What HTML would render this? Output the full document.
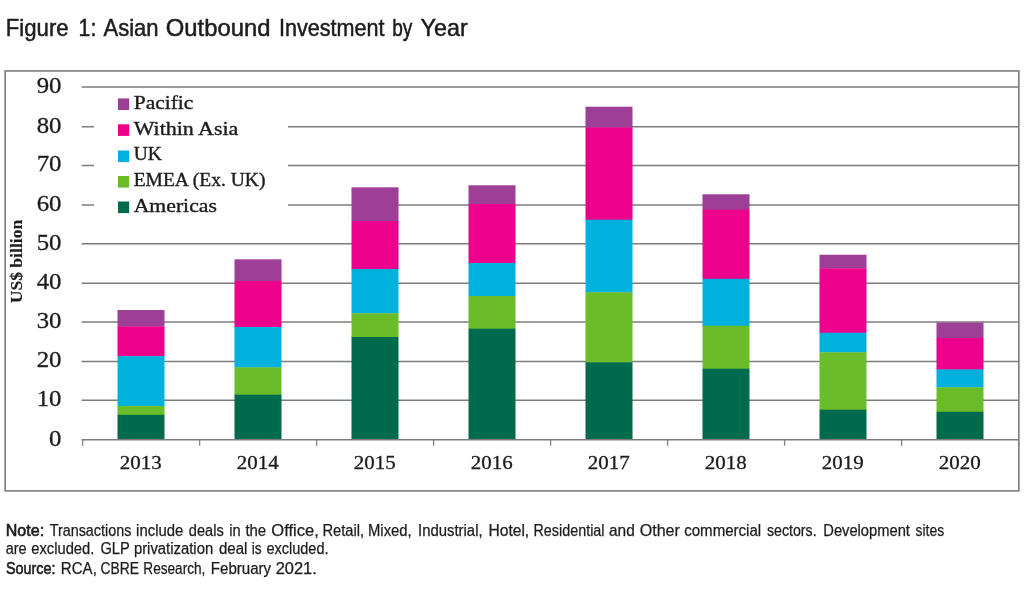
<!DOCTYPE html>
<html lang="en"><head><meta charset="utf-8"><title>Figure 1: Asian Outbound Investment by Year</title>
<style>html,body{margin:0;padding:0;background:#fff}svg{display:block}.s{font-family:"Liberation Serif","DejaVu Serif",serif;fill:#1c1c1c;stroke:#1c1c1c;stroke-width:.3px}.a{font-family:"Liberation Sans","DejaVu Sans",sans-serif;fill:#1c1c1c}.f{stroke:#1c1c1c;stroke-width:.25px}.m{stroke:#1c1c1c;stroke-width:.6px}.t{stroke:#1c1c1c;stroke-width:.5px}.b{font-weight:bold}</style></head><body>
<svg width="1024" height="600" viewBox="0 0 1024 600">
<rect width="1024" height="600" fill="#fff"/>
<text class="a t" y="36.0" font-size="24"><tspan x="5.8" textLength="62.8" lengthAdjust="spacingAndGlyphs">Figure</tspan> <tspan x="78.6" textLength="17.7" lengthAdjust="spacingAndGlyphs">1:</tspan> <tspan x="103.5" textLength="55.1" lengthAdjust="spacingAndGlyphs">Asian</tspan> <tspan x="165.8" textLength="104.6" lengthAdjust="spacingAndGlyphs">Outbound</tspan> <tspan x="279.0" textLength="105.6" lengthAdjust="spacingAndGlyphs">Investment</tspan> <tspan x="392.2" textLength="20.1" lengthAdjust="spacingAndGlyphs">by</tspan> <tspan x="420.6" textLength="47.1" lengthAdjust="spacingAndGlyphs">Year</tspan></text>
<rect x="5.15" y="70.95" width="1013.7" height="419.95" fill="none" stroke="#7c7c7c" stroke-width="1.6"/>
<g stroke="#7c7c7c" stroke-width="1.5">
<line x1="81.6" y1="400.22" x2="1018.5" y2="400.22"/>
<line x1="81.6" y1="361.45" x2="1018.5" y2="361.45"/>
<line x1="81.6" y1="321.95" x2="1018.5" y2="321.95"/>
<line x1="81.6" y1="283.28" x2="1018.5" y2="283.28"/>
<line x1="81.6" y1="243.74" x2="1018.5" y2="243.74"/>
<line x1="81.6" y1="205.05" x2="1018.5" y2="205.05"/>
<line x1="81.6" y1="165.40" x2="1018.5" y2="165.40"/>
<line x1="81.6" y1="126.74" x2="1018.5" y2="126.74"/>
<line x1="81.6" y1="87.07" x2="1018.5" y2="87.07"/>
</g>
<rect x="94" y="91" width="194" height="135" fill="#fff"/>
<rect x="117.5" y="310.0" width="47" height="16.6" fill="#9e3f97"/>
<rect x="117.5" y="326.3" width="47" height="30.1" fill="#ec008c"/>
<rect x="117.5" y="356.1" width="47" height="50.2" fill="#00b1dd"/>
<rect x="117.5" y="406.0" width="47" height="9.1" fill="#6abd28"/>
<rect x="117.5" y="414.8" width="47" height="25.2" fill="#006a4d"/>
<rect x="234.5" y="259.3" width="47" height="22.0" fill="#9e3f97"/>
<rect x="234.5" y="281.0" width="47" height="46.3" fill="#ec008c"/>
<rect x="234.5" y="327.0" width="47" height="40.6" fill="#00b1dd"/>
<rect x="234.5" y="367.3" width="47" height="27.7" fill="#6abd28"/>
<rect x="234.5" y="394.7" width="47" height="45.3" fill="#006a4d"/>
<rect x="351.5" y="187.3" width="47" height="34.0" fill="#9e3f97"/>
<rect x="351.5" y="221.0" width="47" height="48.3" fill="#ec008c"/>
<rect x="351.5" y="269.0" width="47" height="44.6" fill="#00b1dd"/>
<rect x="351.5" y="313.3" width="47" height="24.0" fill="#6abd28"/>
<rect x="351.5" y="337.0" width="47" height="103.0" fill="#006a4d"/>
<rect x="468.5" y="185.3" width="47" height="19.0" fill="#9e3f97"/>
<rect x="468.5" y="204.0" width="47" height="59.3" fill="#ec008c"/>
<rect x="468.5" y="263.0" width="47" height="33.3" fill="#00b1dd"/>
<rect x="468.5" y="296.0" width="47" height="33.0" fill="#6abd28"/>
<rect x="468.5" y="328.7" width="47" height="111.3" fill="#006a4d"/>
<rect x="585.5" y="106.7" width="47" height="20.9" fill="#9e3f97"/>
<rect x="585.5" y="127.3" width="47" height="92.7" fill="#ec008c"/>
<rect x="585.5" y="219.7" width="47" height="72.9" fill="#00b1dd"/>
<rect x="585.5" y="292.3" width="47" height="70.3" fill="#6abd28"/>
<rect x="585.5" y="362.3" width="47" height="77.7" fill="#006a4d"/>
<rect x="702.5" y="194.3" width="47" height="15.7" fill="#9e3f97"/>
<rect x="702.5" y="209.7" width="47" height="69.4" fill="#ec008c"/>
<rect x="702.5" y="278.8" width="47" height="47.2" fill="#00b1dd"/>
<rect x="702.5" y="325.7" width="47" height="43.3" fill="#6abd28"/>
<rect x="702.5" y="368.7" width="47" height="71.3" fill="#006a4d"/>
<rect x="819.5" y="254.7" width="47" height="13.9" fill="#9e3f97"/>
<rect x="819.5" y="268.3" width="47" height="64.7" fill="#ec008c"/>
<rect x="819.5" y="332.7" width="47" height="19.9" fill="#00b1dd"/>
<rect x="819.5" y="352.3" width="47" height="57.7" fill="#6abd28"/>
<rect x="819.5" y="409.7" width="47" height="30.3" fill="#006a4d"/>
<rect x="936.5" y="322.5" width="47" height="15.8" fill="#9e3f97"/>
<rect x="936.5" y="338.0" width="47" height="31.8" fill="#ec008c"/>
<rect x="936.5" y="369.5" width="47" height="18.1" fill="#00b1dd"/>
<rect x="936.5" y="387.3" width="47" height="24.8" fill="#6abd28"/>
<rect x="936.5" y="411.8" width="47" height="28.2" fill="#006a4d"/>
<g stroke="#7c7c7c" stroke-width="1.5">
<line x1="81.6" y1="439.7" x2="1018.5" y2="439.7"/>
<line x1="82.6" y1="440" x2="82.6" y2="445.7" stroke-width="1.35" stroke="#858585"/>
<line x1="199.6" y1="440" x2="199.6" y2="445.7" stroke-width="1.35" stroke="#858585"/>
<line x1="316.6" y1="440" x2="316.6" y2="445.7" stroke-width="1.35" stroke="#858585"/>
<line x1="433.6" y1="440" x2="433.6" y2="445.7" stroke-width="1.35" stroke="#858585"/>
<line x1="550.6" y1="440" x2="550.6" y2="445.7" stroke-width="1.35" stroke="#858585"/>
<line x1="667.6" y1="440" x2="667.6" y2="445.7" stroke-width="1.35" stroke="#858585"/>
<line x1="784.6" y1="440" x2="784.6" y2="445.7" stroke-width="1.35" stroke="#858585"/>
<line x1="901.6" y1="440" x2="901.6" y2="445.7" stroke-width="1.35" stroke="#858585"/>
<line x1="1018.6" y1="440" x2="1018.6" y2="445.7" stroke-width="1.35" stroke="#858585"/>
</g>
<text class="s" x="49.1" y="445.7" font-size="22.9" textLength="12.4" lengthAdjust="spacingAndGlyphs">0</text>
<text class="s" x="36.7" y="406.2" font-size="22.9" textLength="24.8" lengthAdjust="spacingAndGlyphs">10</text>
<text class="s" x="36.7" y="367.4" font-size="22.9" textLength="24.8" lengthAdjust="spacingAndGlyphs">20</text>
<text class="s" x="36.7" y="327.9" font-size="22.9" textLength="24.8" lengthAdjust="spacingAndGlyphs">30</text>
<text class="s" x="36.7" y="289.3" font-size="22.9" textLength="24.8" lengthAdjust="spacingAndGlyphs">40</text>
<text class="s" x="36.7" y="249.7" font-size="22.9" textLength="24.8" lengthAdjust="spacingAndGlyphs">50</text>
<text class="s" x="36.7" y="211.1" font-size="22.9" textLength="24.8" lengthAdjust="spacingAndGlyphs">60</text>
<text class="s" x="36.7" y="171.4" font-size="22.9" textLength="24.8" lengthAdjust="spacingAndGlyphs">70</text>
<text class="s" x="36.7" y="132.7" font-size="22.9" textLength="24.8" lengthAdjust="spacingAndGlyphs">80</text>
<text class="s" x="36.7" y="93.1" font-size="22.9" textLength="24.8" lengthAdjust="spacingAndGlyphs">90</text>
<text class="s" x="119.8" y="468.6" font-size="19" textLength="41.9" lengthAdjust="spacingAndGlyphs">2013</text>
<text class="s" x="236.8" y="468.6" font-size="19" textLength="41.9" lengthAdjust="spacingAndGlyphs">2014</text>
<text class="s" x="353.8" y="468.6" font-size="19" textLength="41.9" lengthAdjust="spacingAndGlyphs">2015</text>
<text class="s" x="470.8" y="468.6" font-size="19" textLength="41.9" lengthAdjust="spacingAndGlyphs">2016</text>
<text class="s" x="587.8" y="468.6" font-size="19" textLength="41.9" lengthAdjust="spacingAndGlyphs">2017</text>
<text class="s" x="704.8" y="468.6" font-size="19" textLength="41.9" lengthAdjust="spacingAndGlyphs">2018</text>
<text class="s" x="821.8" y="468.6" font-size="19" textLength="41.9" lengthAdjust="spacingAndGlyphs">2019</text>
<text class="s" x="938.8" y="468.6" font-size="19" textLength="41.9" lengthAdjust="spacingAndGlyphs">2020</text>
<text class="s b" transform="translate(22.2,303.3) rotate(-90)" font-size="16" textLength="83.5" lengthAdjust="spacingAndGlyphs" style="stroke-width:.15px">US$ billion</text>
<rect x="118" y="98.4" width="11.2" height="11.6" fill="#9e3f97"/>
<text class="s" x="133.7" y="108.9" font-size="18.6" textLength="59.7" lengthAdjust="spacingAndGlyphs" style="stroke-width:.36px">Pacific</text>
<rect x="118" y="124.3" width="11.2" height="11.6" fill="#ec008c"/>
<text class="s" x="133.7" y="134.6" font-size="18.6" textLength="104.7" lengthAdjust="spacingAndGlyphs" style="stroke-width:.36px">Within Asia</text>
<rect x="118" y="150.5" width="11.2" height="11.6" fill="#00b1dd"/>
<text class="s" x="133.7" y="160.0" font-size="18.6" textLength="28.2" lengthAdjust="spacingAndGlyphs" style="stroke-width:.36px">UK</text>
<rect x="118" y="176.0" width="11.2" height="11.6" fill="#6abd28"/>
<text class="s" x="133.7" y="186.3" font-size="18.6" textLength="131.7" lengthAdjust="spacingAndGlyphs" style="stroke-width:.36px">EMEA (Ex. UK)</text>
<rect x="118" y="201.5" width="11.2" height="11.6" fill="#006a4d"/>
<text class="s" x="133.7" y="211.9" font-size="18.6" textLength="83.2" lengthAdjust="spacingAndGlyphs" style="stroke-width:.36px">Americas</text>
<text class="a m" y="535.8" font-size="15.8"><tspan x="5.8" textLength="38.3" lengthAdjust="spacingAndGlyphs">Note:</tspan></text>
<text class="a f" y="535.8" font-size="15.8"><tspan x="49.7" textLength="81.7" lengthAdjust="spacingAndGlyphs">Transactions</tspan> <tspan x="136.1" textLength="47.2" lengthAdjust="spacingAndGlyphs">include</tspan> <tspan x="188.8" textLength="34.9" lengthAdjust="spacingAndGlyphs">deals</tspan> <tspan x="229.3" textLength="11.4" lengthAdjust="spacingAndGlyphs">in</tspan> <tspan x="245.4" textLength="20.8" lengthAdjust="spacingAndGlyphs">the</tspan> <tspan x="271.3" textLength="47.6" lengthAdjust="spacingAndGlyphs">Office,</tspan> <tspan x="322.4" textLength="41.7" lengthAdjust="spacingAndGlyphs">Retail,</tspan> <tspan x="368.0" textLength="43.7" lengthAdjust="spacingAndGlyphs">Mixed,</tspan> <tspan x="418.1" textLength="64.5" lengthAdjust="spacingAndGlyphs">Industrial,</tspan> <tspan x="488.5" textLength="40.7" lengthAdjust="spacingAndGlyphs">Hotel,</tspan> <tspan x="533.5" textLength="71.0" lengthAdjust="spacingAndGlyphs">Residential</tspan> <tspan x="609.0" textLength="25.8" lengthAdjust="spacingAndGlyphs">and</tspan> <tspan x="639.7" textLength="40.2" lengthAdjust="spacingAndGlyphs">Other</tspan> <tspan x="684.2" textLength="77.0" lengthAdjust="spacingAndGlyphs">commercial</tspan> <tspan x="766.9" textLength="49.7" lengthAdjust="spacingAndGlyphs">sectors.</tspan> <tspan x="823.3" textLength="86.6" lengthAdjust="spacingAndGlyphs">Development</tspan> <tspan x="915.5" textLength="28.6" lengthAdjust="spacingAndGlyphs">sites</tspan></text>
<text class="a f" y="554.4" font-size="15.8"><tspan x="5.7" textLength="20.9" lengthAdjust="spacingAndGlyphs">are</tspan> <tspan x="31.2" textLength="63.2" lengthAdjust="spacingAndGlyphs">excluded.</tspan> <tspan x="100.4" textLength="29.1" lengthAdjust="spacingAndGlyphs">GLP</tspan> <tspan x="133.9" textLength="79.3" lengthAdjust="spacingAndGlyphs">privatization</tspan> <tspan x="219.0" textLength="28.4" lengthAdjust="spacingAndGlyphs">deal</tspan> <tspan x="251.8" textLength="9.9" lengthAdjust="spacingAndGlyphs">is</tspan> <tspan x="266.4" textLength="62.1" lengthAdjust="spacingAndGlyphs">excluded.</tspan></text>
<text class="a m" y="574.2" font-size="15.8"><tspan x="6.0" textLength="49.4" lengthAdjust="spacingAndGlyphs">Source:</tspan></text>
<text class="a f" y="574.2" font-size="15.8"><tspan x="60.8" textLength="36.1" lengthAdjust="spacingAndGlyphs">RCA,</tspan> <tspan x="100.6" textLength="38.5" lengthAdjust="spacingAndGlyphs">CBRE</tspan> <tspan x="143.3" textLength="62.1" lengthAdjust="spacingAndGlyphs">Research,</tspan> <tspan x="210.8" textLength="60.3" lengthAdjust="spacingAndGlyphs">February</tspan> <tspan x="275.7" textLength="41.1" lengthAdjust="spacingAndGlyphs">2021.</tspan></text>
</svg></body></html>
